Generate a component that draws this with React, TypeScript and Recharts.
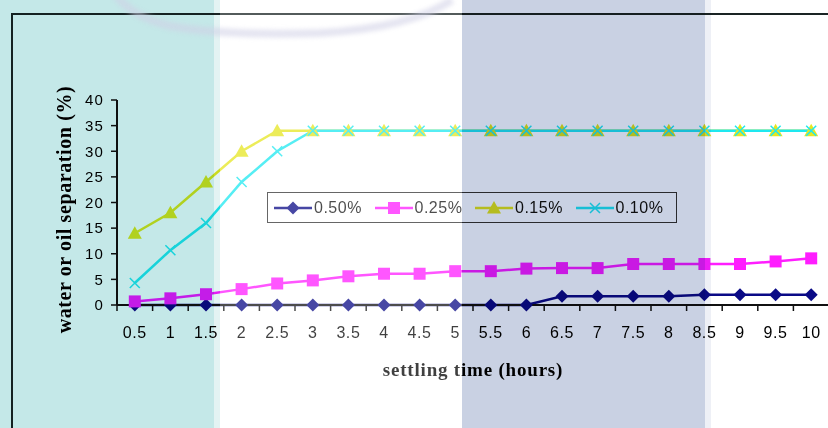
import React from "react";
import { LineChart, Line, XAxis, YAxis, Legend } from "recharts";

// settling time in hours (category values along the x axis)
const times = [0.5, 1, 1.5, 2, 2.5, 3, 3.5, 4, 4.5, 5, 5.5, 6, 6.5, 7, 7.5, 8, 8.5, 9, 9.5, 10];
// boundaries between categories, where Excel puts its tick marks
const tickMarks = [0.25, 0.75, 1.25, 1.75, 2.25, 2.75, 3.25, 3.75, 4.25, 4.75, 5.25, 5.75, 6.25, 6.75, 7.25, 7.75, 8.25, 8.75, 9.25, 9.75, 10.25];
const yTicks = [0, 5, 10, 15, 20, 25, 30, 35, 40];

// water or oil separation (%) per concentration
const sep050 = [0, 0, 0, 0, 0, 0, 0, 0, 0, 0, 0, 0, 1.7, 1.7, 1.7, 1.7, 2, 2, 2, 2];
const sep025 = [0.7, 1.3, 2.1, 3.1, 4.2, 4.8, 5.6, 6.1, 6.1, 6.6, 6.6, 7.1, 7.2, 7.2, 8, 8, 8, 8, 8.5, 9.1];
const sep015 = [14, 18, 24, 30, 34, 34, 34, 34, 34, 34, 34, 34, 34, 34, 34, 34, 34, 34, 34, 34];
const sep010 = [4.3, 10.7, 16, 24, 30, 34, 34, 34, 34, 34, 34, 34, 34, 34, 34, 34, 34, 34, 34, 34];

const series = [
  { key: "s050", name: "0.50%", color: "#0a0a86", marker: "diamond" },
  { key: "s025", name: "0.25%", color: "#ff1eff", marker: "square" },
  { key: "s015", name: "0.15%", color: "#e6e622", marker: "triangle" },
  { key: "s010", name: "0.10%", color: "#1ee8f0", marker: "cross" },
];

const data = times.map((t, i) => ({
  t,
  s050: sep050[i],
  s025: sep025[i],
  s015: sep015[i],
  s010: sep010[i],
}));

function markerShape(kind: string, cx: number, cy: number, color: string, key?: string) {
  if (kind === "diamond") {
    return <path key={key} d={`M${cx} ${cy - 6.5}L${cx + 6.5} ${cy}L${cx} ${cy + 6.5}L${cx - 6.5} ${cy}Z`} fill={color} />;
  }
  if (kind === "square") {
    return <rect key={key} x={cx - 6} y={cy - 6} width={12} height={12} fill={color} />;
  }
  if (kind === "triangle") {
    return <path key={key} d={`M${cx} ${cy - 7}L${cx + 7} ${cy + 5.5}L${cx - 7} ${cy + 5.5}Z`} fill={color} />;
  }
  return (
    <path key={key} d={`M${cx - 5} ${cy - 5}L${cx + 5} ${cy + 5}M${cx - 5} ${cy + 5}L${cx + 5} ${cy - 5}`} stroke={color} strokeWidth={1.5} fill="none" />
  );
}

const makeDot = (kind: string, color: string) => (props: any) => {
  const { cx, cy, index } = props;
  if (cx == null || cy == null) return <g key={`e-${kind}-${index}`} />;
  return markerShape(kind, cx, cy, color, `${kind}-${index}`);
};

const LegendBox = (props: any) => {
  const payload = props.payload || [];
  const shown = series.filter(s => payload.some((p: any) => p.dataKey === s.key));
  return (
    <div
      style={{
        display: "flex",
        alignItems: "center",
        width: "100%",
        height: "100%",
        boxSizing: "border-box",
        border: "1px solid #333",
        background: "#fff",
        paddingLeft: 6,
      }}
    >
      {shown.map(s => (
        <div key={s.key} style={{ display: "flex", alignItems: "center", width: 101 }}>
          <svg width={40} height={16} style={{ flexShrink: 0 }}>
            <line x1={0} y1={8} x2={38} y2={8} stroke={s.color} strokeWidth={2.5} />
            {markerShape(s.marker, 19, 8, s.color)}
          </svg>
          <span style={{ fontSize: 16, fontFamily: "'Liberation Sans', Arial, sans-serif", color: "#111", letterSpacing: 0.5 }}>
            {s.name}
          </span>
        </div>
      ))}
    </div>
  );
};

export default function App() {
  const axisColor = "#111";
  const tickFont = "'Liberation Sans', Arial, sans-serif";
  return (
    <div style={{ position: "absolute", left: 0, top: 0, width: 828, height: 428, overflow: "hidden", background: "#fff" }}>
      {/* chart frame */}
      <div style={{ position: "absolute", left: 11, top: 13, width: 830, height: 430, borderLeft: "2px solid #1a2424", borderTop: "2px solid #1a2424" }} />

      <div style={{ position: "absolute", left: 0, top: 0 }}>
        <LineChart width={830} height={428} data={data} margin={{ top: 100, right: 1, left: 0, bottom: 87 }}>
          <YAxis
            domain={[0, 40]}
            ticks={yTicks}
            width={117}
            tickSize={6}
            tickMargin={7}
            interval={0}
            axisLine={{ stroke: axisColor, strokeWidth: 2 }}
            tickLine={{ stroke: axisColor, strokeWidth: 1.5 }}
            tick={{ fill: "#000", fontSize: 15, fontFamily: tickFont, letterSpacing: 1.2 }}
            label={{
              value: "water or oil separation (%)",
              angle: -90,
              position: "center",
              dx: 5,
              dy: 7,
              style: { fill: "#000", fontSize: 20, fontWeight: "bold", fontFamily: "'Liberation Serif', 'Times New Roman', serif", letterSpacing: 0.6 },
            }}
          />
          {/* axis line with tick marks between categories */}
          <XAxis
            xAxisId="a"
            dataKey="t"
            type="number"
            domain={[0.25, 10.25]}
            ticks={tickMarks}
            interval={0}
            height={6}
            tickSize={6}
            axisLine={{ stroke: axisColor, strokeWidth: 2 }}
            tickLine={{ stroke: axisColor, strokeWidth: 1.5 }}
            tick={() => <g />}
          />
          {/* category labels */}
          <XAxis
            xAxisId="b"
            dataKey="t"
            type="number"
            domain={[0.25, 10.25]}
            ticks={times}
            interval={0}
            height={30}
            axisLine={false}
            tickLine={false}
            tickMargin={10}
            tick={{ fill: "#000", fontSize: 16, fontFamily: tickFont, letterSpacing: 0.6 }}
            label={{
              value: "settling time (hours)",
              position: "center",
              dy: 43,
              style: { fill: "#000", fontSize: 19, fontWeight: "bold", fontFamily: "'Liberation Serif', 'Times New Roman', serif", letterSpacing: 0.8 },
            }}
          />
          <Legend
            layout="horizontal"
            verticalAlign="middle"
            align="center"
            content={LegendBox}
            wrapperStyle={{ position: "absolute", left: 267, top: 192, width: 410, height: 31 }}
          />
          {series.map(s => (
            <Line
              key={s.key}
              xAxisId="a"
              dataKey={s.key}
              name={s.name}
              type="linear"
              stroke={s.color}
              strokeWidth={2.5}
              dot={makeDot(s.marker, s.color)}
              activeDot={false}
              isAnimationActive={false}
            />
          ))}
        </LineChart>
      </div>

      {/* watermark tints laid over the picture */}
      <div style={{ position: "absolute", left: 0, top: 0, width: 214, height: 428, background: "#c4e8e8", mixBlendMode: "multiply", pointerEvents: "none" }} />
      <div style={{ position: "absolute", left: 214, top: 0, width: 6, height: 428, background: "#e3f3f3", mixBlendMode: "multiply", pointerEvents: "none" }} />
      <div style={{ position: "absolute", left: 220, top: 0, width: 242, height: 428, background: "rgba(255,255,255,0.25)", pointerEvents: "none" }} />
      <div style={{ position: "absolute", left: 462, top: 0, width: 243, height: 428, background: "#c9d1e3", mixBlendMode: "multiply", pointerEvents: "none" }} />
      <div style={{ position: "absolute", left: 705, top: 0, width: 6, height: 428, background: "#eef0f6", mixBlendMode: "multiply", pointerEvents: "none" }} />
      <svg width={828} height={60} style={{ position: "absolute", left: 0, top: 0, pointerEvents: "none" }}>
        <path
          d="M116 -4 Q135 18 170 26 Q225 36 320 33 Q410 28 452 0"
          stroke="#cfcfe6"
          strokeOpacity={0.55}
          strokeWidth={8}
          fill="none"
          style={{ filter: "blur(2px)" }}
        />
      </svg>
    </div>
  );
}
